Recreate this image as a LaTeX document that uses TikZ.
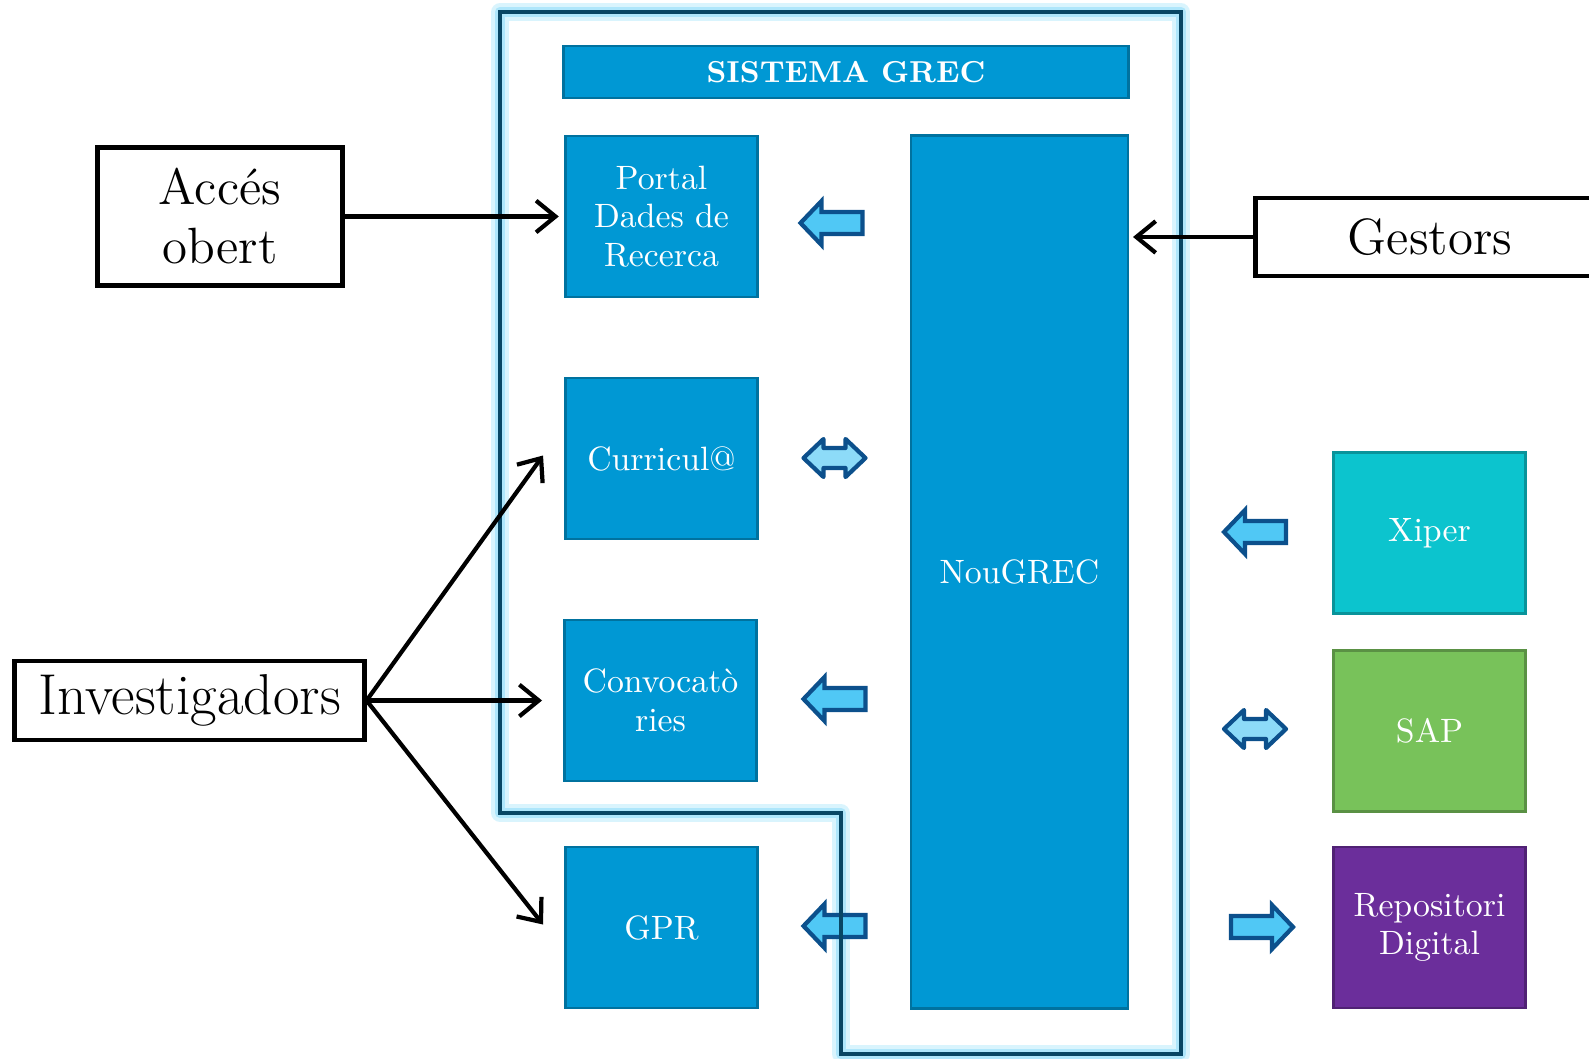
\documentclass[tikz,border=0pt]{standalone}
\usetikzlibrary{arrows.meta,positioning,calc}
\definecolor{grecblue}{RGB}{0,152,212}
\definecolor{xipercol}{RGB}{12,196,206}
\definecolor{sapcol}{RGB}{120,194,90}
\definecolor{repocol}{RGB}{107,46,155}
\definecolor{arrfill}{RGB}{80,200,245}
\definecolor{arrline}{RGB}{12,80,140}
\definecolor{wallcol}{RGB}{8,70,100}
\definecolor{glowcol}{RGB}{160,226,250}
\newcommand{\barrowl}[1]{\draw[barrow,shift={(#1)}] (-31,0) -- (-10,-22) -- (-10,-11) -- (31,-11) -- (31,11) -- (-10,11) -- (-10,22) -- cycle;}
\newcommand{\barrowr}[1]{\draw[barrow,shift={(#1)}] (31,0) -- (10,-22) -- (10,-11) -- (-31,-11) -- (-31,11) -- (10,11) -- (10,22) -- cycle;}
\newcommand{\barrowd}[1]{\draw[barrow,dbl,shift={(#1)}] (-31,0) -- (-11,-19) -- (-11,-10) -- (11,-10) -- (11,-19) -- (31,0) -- (11,19) -- (11,10) -- (-11,10) -- (-11,19) -- cycle;}

\begin{document}
\begin{tikzpicture}
[x=0.01cm,y=-0.01cm,
mod/.style={fill=grecblue,draw=grecblue!75!black,line width=.8pt,text=white,align=center,
  minimum width=1.92cm,minimum height=1.61cm,inner sep=1pt,font=\fontsize{9.6}{11}\selectfont},
ext/.style={mod,fill=#1,draw=#1!75!black},
actor/.style={draw=black,line width=1.4pt,align=center,inner sep=1pt,font=\fontsize{14.5}{16.8}\selectfont},
conn/.style={->,>={Straight Barb[length=5.5pt,width=9pt]},line width=1.2pt},
barrow/.style={fill=arrfill,draw=arrline,line width=1.2pt,line join=miter},
dbl/.style={fill=arrfill!65!white,line join=round},
wall/.style={draw=wallcol,line width=1pt},
glow/.style={draw=glowcol,line width=#1,line join=round}]
\useasboundingbox (0,0) rectangle (1589,1058);
%%
% system outline
%%
\draw[glow=5pt,glowcol!40] (500,12) -- (1181,12) -- (1181,1054) -- (841,1054) -- (841,813) -- (500,813) -- cycle;
\draw[glow=3pt,glowcol!85] (500,12) -- (1181,12) -- (1181,1054) -- (841,1054) -- (841,813) -- (500,813) -- cycle;
%%
% SISTEMA GREC
%%
\node[mod,minimum width=5.64cm,minimum height=.52cm,font=\fontsize{8.6}{10}\selectfont\bfseries] (sys) at (846,72) {SISTEMA GREC};
\node[mod] (portal) at (661.5,216.5) {Portal\\Dades de\\Recerca};
\node[mod] (cur) at (661.5,458.5) {Curricul@};
\node[mod] (conv) at (660.5,700.5) {Convocatò\\ries};
\node[mod] (gpr) at (661.5,927.5) {GPR};
\node[mod,minimum width=2.17cm,minimum height=8.72cm] (nou) at (1019.5,572) {NouGREC};
%
\barrowl{831.5,223}
\barrowd{834.5,458}
\barrowl{834.5,699}
\barrowl{834.5,926}
%%
\draw[wall] (500,12) -- (1181,12) -- (1181,1054) -- (841,1054) -- (841,813) -- (500,813) -- cycle;
%%
% external systems
%%
\node[ext=xipercol] (xip) at (1429.5,533) {Xiper};
\node[ext=sapcol] (sap) at (1429.5,731) {SAP};
\node[ext=repocol] (repo) at (1429.5,927.5) {Repositori\\Digital};
%
\barrowl{1255,532}
\barrowd{1255,729}
\barrowr{1262,927}
%%
% users
%%
\node[actor,minimum width=2.44cm,minimum height=1.37cm] (acc) at (220,216.5) {Accés\\obert};
\node[actor,minimum width=3.48cm,minimum height=.78cm] (gest) at (1430,237) {Gestors};
\node[actor,minimum width=3.49cm,minimum height=.79cm,font=\fontsize{16.4}{18}\selectfont] (inv) at (189.5,700.5) {Investigadors};
%
\draw[conn,shorten >=1.5pt] (acc.east) -- (acc.east -| portal.west);
\draw[conn,shorten >=1pt] (gest.west) -- (gest.west -| nou.east);
\draw[conn] (inv.east) -- ([xshift=-.21cm,yshift=.03cm]cur.west);
\draw[conn] (inv.east) -- ([xshift=-.21cm]conv.west);
\draw[conn] (inv.east) -- ([xshift=-.21cm,yshift=.03cm]gpr.west);
\end{tikzpicture}
\end{document}
